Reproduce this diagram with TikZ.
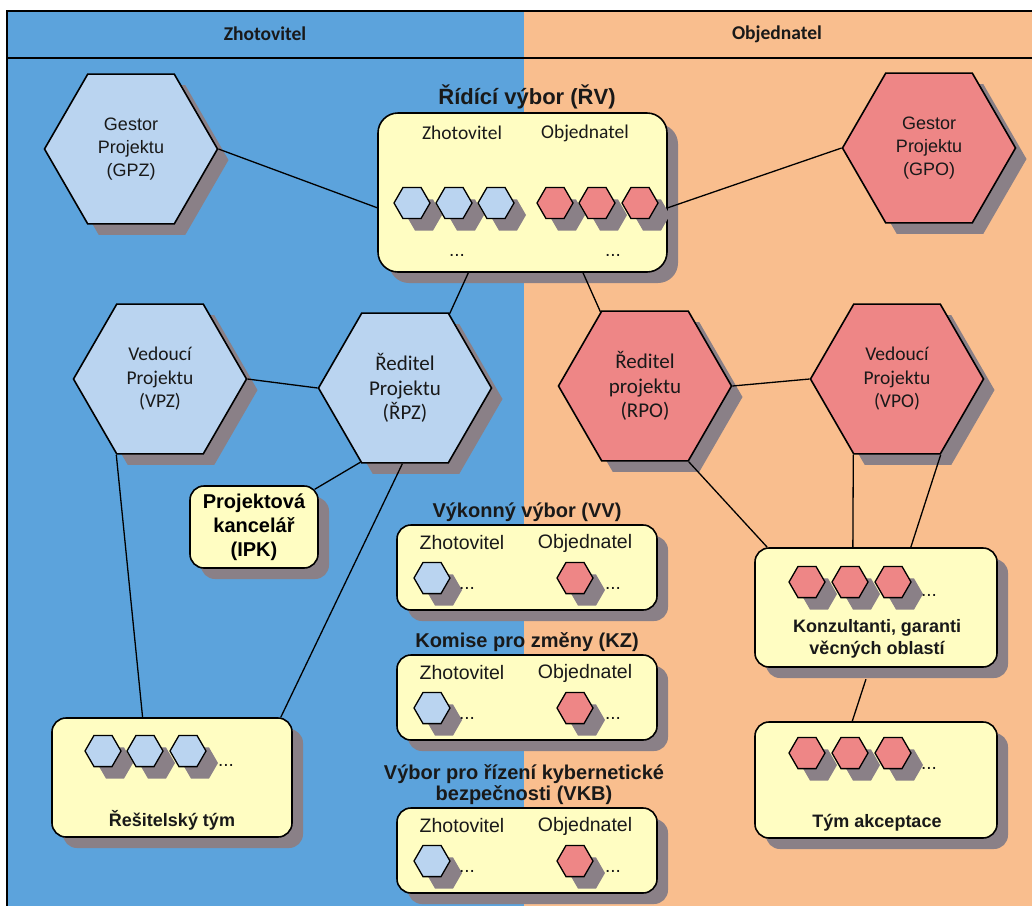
\documentclass[tikz,border=0pt]{standalone}
\usepackage{fontspec}
\setmainfont{Liberation Sans}
\newfontfamily\calfont{Carlito}
\usetikzlibrary{shapes.geometric,shadows,calc}

\definecolor{bgblue}{RGB}{92,163,220}
\definecolor{bgorange}{RGB}{249,190,142}
\definecolor{hexblue}{RGB}{186,212,240}
\definecolor{hexred}{RGB}{238,134,134}
\definecolor{boxyellow}{RGB}{255,253,194}
\definecolor{shadowc}{RGB}{138,128,135}

\tikzset{
  sh/.style={drop shadow={shadow xshift=11pt, shadow yshift=-11pt, fill=shadowc, opacity=1}},
  bighex/.style={regular polygon, regular polygon sides=6, minimum size=173pt, inner sep=0pt,
    draw=black, line width=1.6pt, sh, align=center, text=black!90},
  bluehex/.style={bighex, fill=hexblue},
  redhex/.style={bighex, fill=hexred},
  smallhex/.style={regular polygon, regular polygon sides=6, minimum size=36pt, inner sep=0pt,
    draw=black, line width=1.3pt,
    drop shadow={shadow xshift=12pt, shadow yshift=-12pt, fill=shadowc, opacity=1}},
  sb/.style={smallhex, fill=hexblue},
  sr/.style={smallhex, fill=hexred},
  ybox/.style={rectangle, rounded corners=14pt, draw=black, line width=1.6pt, fill=boxyellow, sh, inner sep=0pt},
  conn/.style={line width=1.3pt, black},
  tx/.style={inner sep=0pt, align=center, text=black!90},
  hdr/.style={tx, font=\calfont\bfseries\fontsize{19.5}{23}\selectfont},
  ttl/.style={tx, font=\bfseries\fontsize{20}{21}\selectfont},
  arl/.style={tx, font=\fontsize{19.5}{23}\selectfont},
  cal/.style={tx, font=\calfont\fontsize{19.5}{23}\selectfont},
  bld/.style={tx, font=\bfseries\fontsize{18}{22}\selectfont},
  dots/.style={tx, font=\fontsize{19}{20}\selectfont},
}

\begin{document}
\begin{tikzpicture}[x=1pt,y=-1pt]
\useasboundingbox (0,0) rectangle (1032,906);
\fill[white] (0,0) rectangle (1032,906);
\fill[bgblue] (7,11) rectangle (524,906);
\fill[bgorange] (524,11) rectangle (1032,906);
\draw[line width=1.5pt] (1032,11) -- (7,11) -- (7,906);
\draw[line width=1.5pt] (7,58) -- (1032,58);
\node[hdr] (hz) at (265,34) {Zhotovitel};
\node[hdr] (ho) at (777,34) {Objednatel};

% big hexagons
\node[bluehex, font=\fontsize{18}{23}\selectfont] (GPZ) at (131,149) {Gestor\\Projektu\\(GPZ)};
\node[redhex, font=\fontsize{18}{23}\selectfont] (GPO) at (929,148) {Gestor\\Projektu\\(GPO)};
\node[bluehex, font=\calfont\fontsize{19.5}{23.5}\selectfont] (VPZ) at (160,379) {Vedoucí\\Projektu\\(VPZ)};
\node[bluehex, font=\calfont\fontsize{21}{24.5}\selectfont] (RPZ) at (405,388) {Ředitel\\Projektu\\(ŘPZ)};
\node[redhex, font=\calfont\fontsize{21}{24.5}\selectfont] (RPO) at (645,386) {Ředitel\\projektu\\(RPO)};
\node[redhex, font=\calfont\fontsize{19.5}{23.5}\selectfont] (VPO) at (897,379) {Vedoucí\\Projektu\\(VPO)};

% Ridici vybor
\node[ttl, font=\bfseries\fontsize{22}{26}\selectfont] (RVt) at (527,97) {Řídící výbor (ŘV)};
\node[ybox, rounded corners=20pt, minimum width=289pt, minimum height=159pt] (RV) at (522.5,192.5) {};
\node[cal] (RVz) at (462,133) {Zhotovitel};
\node[cal] (RVo) at (585,133) {Objednatel};
\node[sb] (RVh1) at (412,203) {};
\node[sb] (RVh2) at (454,203) {};
\node[sb] (RVh3) at (496,203) {};
\node[sr] (RVh4) at (555,203) {};
\node[sr] (RVh5) at (597,203) {};
\node[sr] (RVh6) at (640,203) {};
\node[dots] (RVd1) at (457,255) {...};
\node[dots] (RVd2) at (613,255) {...};

% Projektova kancelar
\node[ybox, minimum width=128pt, minimum height=82pt, font=\bfseries\fontsize{20}{24}\selectfont, align=center] (IPK) at (254,527) {Projektová\\kancelář\\(IPK)};

% Vykonny vybor
\node[ttl] (VVt) at (527,512) {Výkonný výbor (VV)};
\node[ybox, minimum width=260pt, minimum height=85pt] (VV) at (527,567.5) {};
\node[arl] (VVz) at (462,543) {Zhotovitel};
\node[arl] (VVo) at (585,543) {Objednatel};
\node[sb] (VVh1) at (432,578) {};
\node[sr] (VVh2) at (575,578) {};
\node[dots] (VVd1) at (467,588) {...};
\node[dots] (VVd2) at (613,588) {...};

% Komise pro zmeny
\node[ttl] (KZt) at (527,642) {Komise pro změny (KZ)};
\node[ybox, minimum width=260pt, minimum height=85pt] (KZ) at (527,697.5) {};
\node[arl] (KZz) at (462,673) {Zhotovitel};
\node[arl] (KZo) at (585,673) {Objednatel};
\node[sb] (KZh1) at (432,708) {};
\node[sr] (KZh2) at (575,708) {};
\node[dots] (KZd1) at (467,718) {...};
\node[dots] (KZd2) at (613,718) {...};

% VKB
\node[ttl] (VKBt) at (524,785) {Výbor pro řízení kybernetické\\bezpečnosti (VKB)};
\node[ybox, minimum width=260pt, minimum height=85pt] (VKB) at (527,850.5) {};
\node[arl] (VKBz) at (462,826) {Zhotovitel};
\node[arl] (VKBo) at (585,826) {Objednatel};
\node[sb] (VKBh1) at (432,861) {};
\node[sr] (VKBh2) at (575,861) {};
\node[dots] (VKBd1) at (467,871) {...};
\node[dots] (VKBd2) at (613,871) {...};

% Resitelsky tym
\node[ybox, minimum width=240pt, minimum height=119pt] (RT) at (172,777.5) {};
\node[sb] (RTh1) at (103,751) {};
\node[sb] (RTh2) at (145,751) {};
\node[sb] (RTh3) at (188,751) {};
\node[dots] (RTd) at (226,765) {...};
\node[bld] (RTl) at (172,820) {Řešitelský tým};

% Konzultanti
\node[ybox, minimum width=242pt, minimum height=119pt] (KG) at (876,607.5) {};
\node[sr] (KGh1) at (807,582) {};
\node[sr] (KGh2) at (850,582) {};
\node[sr] (KGh3) at (893,582) {};
\node[dots] (KGd) at (929,595) {...};
\node[bld] (KGl) at (877,639) {Konzultanti, garanti\\věcných oblastí};

% Tym akceptace
\node[ybox, minimum width=242pt, minimum height=116pt] (TA) at (876,780) {};
\node[sr] (TAh1) at (807,753) {};
\node[sr] (TAh2) at (850,753) {};
\node[sr] (TAh3) at (893,753) {};
\node[dots] (TAd) at (929,768) {...};
\node[bld] (TAl) at (877,823) {Tým akceptace};

% connectors
\draw[conn] (GPZ.east) -- (RV.186);
\draw[conn] (GPO.west) -- (RV.-6);
\draw[conn] (RV.-124) -- (RPZ.59);
\draw[conn] (RV.-53) -- (RPO.121);
\draw[conn] (VPZ.east) -- (RPZ.west);
\draw[conn] (RPZ.-121) -- ($(IPK.north east)+(-4,4)$);
\draw[conn] (RPZ.-92) -- (RT.29.5);
\draw[conn] (VPZ.-120) -- (RT.116);
\draw[conn] (RPO.east) -- (VPO.west);
\draw[conn] (RPO.-60) -- (KG.151);
\draw[conn] (VPO.-120) -- (KG.111);
\draw[conn] (VPO.-60) -- (KG.60);
\draw[conn, shorten <=12pt] (KG.-96) -- (TA.112);
\end{tikzpicture}
\end{document}
